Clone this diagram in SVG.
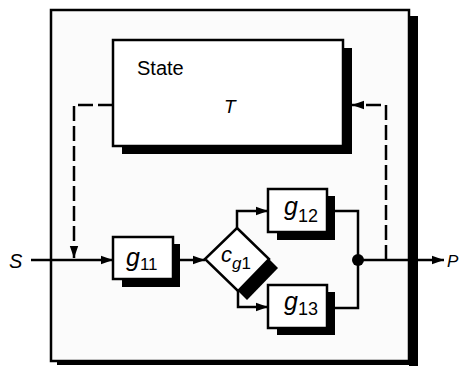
<svg xmlns="http://www.w3.org/2000/svg" width="462" height="367" viewBox="0 0 462 367">
<style>
.box{fill:#fff;stroke:#000;stroke-width:2.5}
.sh{fill:#000}
.ln{fill:none;stroke:#000;stroke-width:2.5}
.dash{fill:none;stroke:#000;stroke-width:2.5;stroke-dasharray:15 5}
.t{font-family:"Liberation Sans",Arial,sans-serif;fill:#000}
.it{font-style:italic}
</style>
<defs>
<marker id="ah" markerUnits="userSpaceOnUse" markerWidth="12" markerHeight="10" refX="12" refY="5" orient="auto">
<path d="M0,0.8 L12,5 L0,9.2 Z" fill="#000"/>
</marker>
</defs>
<rect width="462" height="367" fill="#fff"/>
<g id="frame">
<rect x="409" y="16" width="9" height="350" class="sh"/>
<rect x="57" y="360" width="361" height="5" class="sh"/>
<rect x="51" y="10" width="358" height="351" fill="#fbfbfb" stroke="#000" stroke-width="2.5"/>
</g>
<g id="state">
<rect x="122" y="48" width="230" height="106" class="sh"/>
<rect x="113" y="40" width="230" height="106" class="box"/>
<text x="137" y="75" class="t" font-size="20">State</text>
<text x="224" y="113" class="t it" font-size="19">T</text>
</g>
<g id="g11">
<rect x="122" y="244" width="58" height="43" class="sh"/>
<rect x="113" y="237" width="60" height="42" class="box"/>
<text x="126" y="266" class="t it" font-size="25">g<tspan font-size="17" font-style="normal" dy="4">11</tspan></text>
</g>
<g id="cg1">
<path d="M269,259 L278,268 L247,300 L238,291 Z" class="sh"/>
<path d="M237,228 L269,259 L238,291 L205,259 Z" class="box"/>
<text x="221" y="262" class="t it" font-size="22">c<tspan font-size="17" dy="7">g</tspan><tspan font-size="17" font-style="normal">1</tspan></text>
</g>
<g id="g12">
<rect x="277" y="196" width="58" height="44" class="sh"/>
<rect x="268" y="189" width="59" height="43" class="box"/>
<text x="284" y="215" class="t it" font-size="25">g<tspan font-size="18" font-style="normal" dy="7">12</tspan></text>
</g>
<g id="g13">
<rect x="277" y="292" width="58" height="43" class="sh"/>
<rect x="268" y="285" width="59" height="43" class="box"/>
<text x="284" y="310" class="t it" font-size="25">g<tspan font-size="18" font-style="normal" dy="5">13</tspan></text>
</g>
<g id="connectors">
<path d="M31,260 H113" class="ln" marker-end="url(#ah)"/>
<path d="M113,105 H74 V258" class="dash" marker-end="url(#ah)"/>
<path d="M386,260 V105 H352" class="dash" marker-end="url(#ah)"/>
<path d="M180,260 H205" class="ln" marker-end="url(#ah)"/>
<path d="M237,228 V211 H268" class="ln" marker-end="url(#ah)"/>
<path d="M238,291 V307 H268" class="ln" marker-end="url(#ah)"/>
<path d="M327,211 H358 V308 H327" class="ln"/>
<path d="M358,260 H444" class="ln" marker-end="url(#ah)"/>
<circle cx="358" cy="260" r="6" fill="#000"/>
</g>
<g id="labels">
<text x="9" y="268" class="t it" font-size="20">S</text>
<text x="447" y="267" class="t it" font-size="17">P</text>
</g>
</svg>
